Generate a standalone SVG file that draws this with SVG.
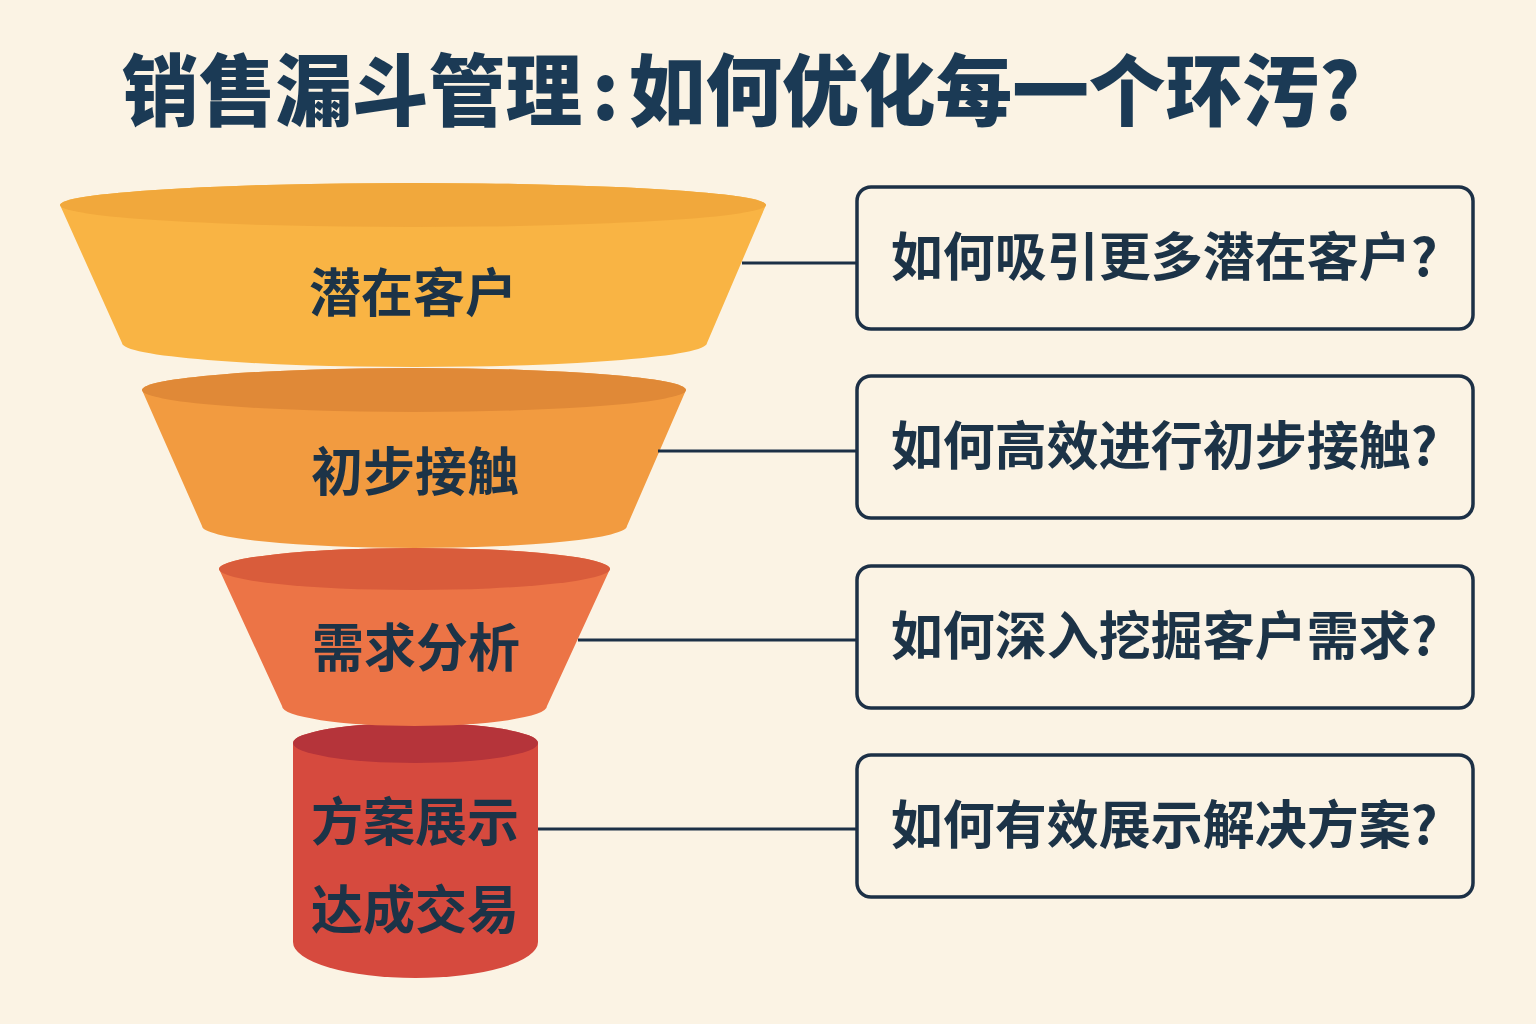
<svg xmlns="http://www.w3.org/2000/svg" width="1536" height="1024" viewBox="0 0 1536 1024">
<style>
.title{font-family:"Noto Sans CJK SC","Noto Sans",sans-serif;font-weight:900;fill:#1b3a55;}
.lbl{font-family:"Noto Sans CJK SC","Noto Sans",sans-serif;font-weight:700;font-size:52px;fill:#1c3347;text-anchor:middle;dominant-baseline:central;}
.q{font-family:"Noto Sans CJK SC","Noto Sans",sans-serif;font-weight:700;font-size:52px;fill:#1c3347;text-anchor:middle;dominant-baseline:central;}
.box{fill:#fbf3e4;stroke:#1c3046;stroke-width:3.5;}
.conn{stroke:#1c3046;stroke-width:3;fill:none;}
</style>
<rect width="1536" height="1024" fill="#fbf3e4"/>
<text class="title" x="741" y="120" font-size="78" text-anchor="middle" textLength="1238" lengthAdjust="spacingAndGlyphs">销售漏斗管理<tspan dx="10">:</tspan><tspan dx="10">如何优化每一个环汚?</tspan></text>

<g id="stage4">
<path d="M293,743 L293,942 A122.5,36 0 0 0 538,942 L538,743 A122.5,20 0 0 0 293,743 Z" fill="#d64a3e"/>
<ellipse cx="415.5" cy="743" rx="122.5" ry="20" fill="#b5343a"/>
<text class="lbl" x="415" y="818">方案展示</text>
<text class="lbl" x="415" y="906">达成交易</text>
</g>
<g id="stage3">
<path d="M219,569 L282,706 A132.5,20 0 0 0 547,706 L610,569 A195.5,21 0 0 0 219,569 Z" fill="#ec7446"/>
<ellipse cx="414.5" cy="569" rx="195.5" ry="21" fill="#d95c3b"/>
<text class="lbl" x="416" y="644">需求分析</text>
</g>
<g id="stage2">
<path d="M142,390 L202,526 A212.5,22 0 0 0 627,526 L686,390 A272,22 0 0 0 142,390 Z" fill="#f29b40"/>
<ellipse cx="414" cy="390" rx="272" ry="22" fill="#e08937"/>
<text class="lbl" x="415" y="468">初步接触</text>
</g>
<g id="stage1">
<path d="M60,205 L122,343 A292.5,24 0 0 0 707,343 L766,205 A353,22 0 0 0 60,205 Z" fill="#f9b444"/>
<ellipse cx="413" cy="205" rx="353" ry="22" fill="#f1a83c"/>
<text class="lbl" x="413" y="289">潜在客户</text>
</g>

<g id="connectors">
<line class="conn" x1="742" y1="263" x2="857" y2="263"/>
<line class="conn" x1="658" y1="451" x2="857" y2="451"/>
<line class="conn" x1="578" y1="640" x2="857" y2="640"/>
<line class="conn" x1="538" y1="829" x2="857" y2="829"/>
</g>

<g id="q1">
<rect class="box" x="857" y="187" width="616" height="142" rx="14"/>
<text class="q" x="1164" y="253">如何吸引更多潜在客户?</text>
</g>
<g id="q2">
<rect class="box" x="857" y="376" width="616" height="142" rx="14"/>
<text class="q" x="1164" y="442">如何高效进行初步接触?</text>
</g>
<g id="q3">
<rect class="box" x="857" y="566" width="616" height="142" rx="14"/>
<text class="q" x="1164" y="632">如何深入挖掘客户需求?</text>
</g>
<g id="q4">
<rect class="box" x="857" y="755" width="616" height="142" rx="14"/>
<text class="q" x="1164" y="821">如何有效展示解决方案?</text>
</g>
</svg>
